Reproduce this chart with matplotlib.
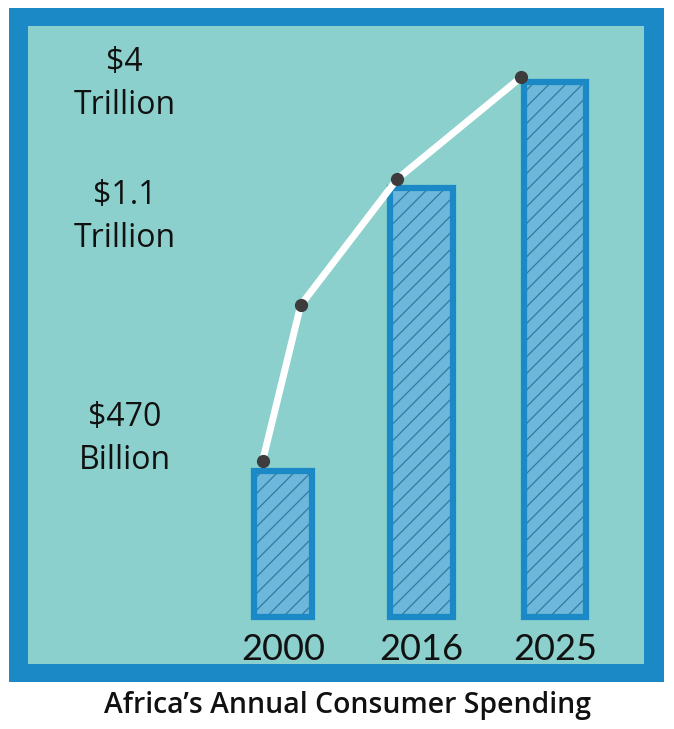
"""
Africa's annual consumer spending - bar + trend line chart
"""

import matplotlib
matplotlib.use("Agg")
import matplotlib.pyplot as plt
from matplotlib.patches import Rectangle

# Data (bar heights and line points are relative index values)
years = ["2000", "2016", "2025"]
bar_heights = [27.3, 80.2, 100.0]
value_labels = ["$470\nBillion", "$1.1\nTrillion", "$4\nTrillion"]
label_levels = [33.3, 74.8, 99.7]

trend_x = [-0.15, 0.13, 0.84, 1.75]
trend_y = [29.2, 58.3, 81.9, 100.9]

# Colours
FRAME_BLUE = "#1b89c5"
TEAL = "#8bd0cc"
BAR_FILL = "#6db7da"
HATCH_BLUE = "#2f7aa6"
DOT = "#3d3b3b"

plt.rcParams["font.family"] = ["Lato", "DejaVu Sans"]
plt.rcParams["hatch.linewidth"] = 0.9

W, H = 674, 729
fig = plt.figure(figsize=(W / 100, H / 100), dpi=100)
fig.patch.set_facecolor("white")

# blue outer frame
fig.patches.append(Rectangle((9 / W, 1 - 682 / H), 655 / W, 674 / H,
                             transform=fig.transFigure, facecolor=FRAME_BLUE,
                             edgecolor="none", zorder=0))

ax = fig.add_axes([28 / W, 1 - 664 / H, 616 / W, 638 / H])
ax.set_zorder(2)
ax.set_facecolor(TEAL)
ax.set_xlim(-1.875, 2.654)
ax.set_ylim(-8.8, 110.5)
for s in ax.spines.values():
    s.set_visible(False)
ax.set_xticks([])
ax.set_yticks([])

x = [0, 1.02, 2.0]
widths = [0.42, 0.46, 0.46]

# hatched fill, then thick border on top
ax.bar(x, bar_heights, width=widths, color=BAR_FILL, edgecolor=HATCH_BLUE,
       hatch="//", linewidth=0, zorder=2)
ax.bar(x, bar_heights, width=widths, color="none", edgecolor=FRAME_BLUE,
       linewidth=4.5, zorder=3)

# trend line
ax.plot(trend_x, trend_y, color="white", linewidth=5, solid_capstyle="round",
        zorder=4)
ax.plot(trend_x, trend_y, linestyle="none", marker="o", markersize=8.5,
        color=DOT, zorder=5)

# year labels under bars
for xi, yr in zip(x, years):
    ax.text(xi, -6.0, yr, ha="center", va="center", fontsize=26, color="#111111")

# value labels on the left
for lab, lvl in zip(value_labels, label_levels):
    ax.text(-1.165, lvl, lab, ha="center", va="center", fontsize=23,
            family=["Open Sans", "DejaVu Sans"], color="#111111",
            linespacing=1.38)

fig.text(348 / W, 1 - 705 / H, "Africa\u2019s Annual Consumer Spending",
         ha="center", va="center", fontsize=20.4, fontweight="semibold",
         family=["Open Sans", "DejaVu Sans"], color="#111111")

fig.savefig("out.png", dpi=100)
